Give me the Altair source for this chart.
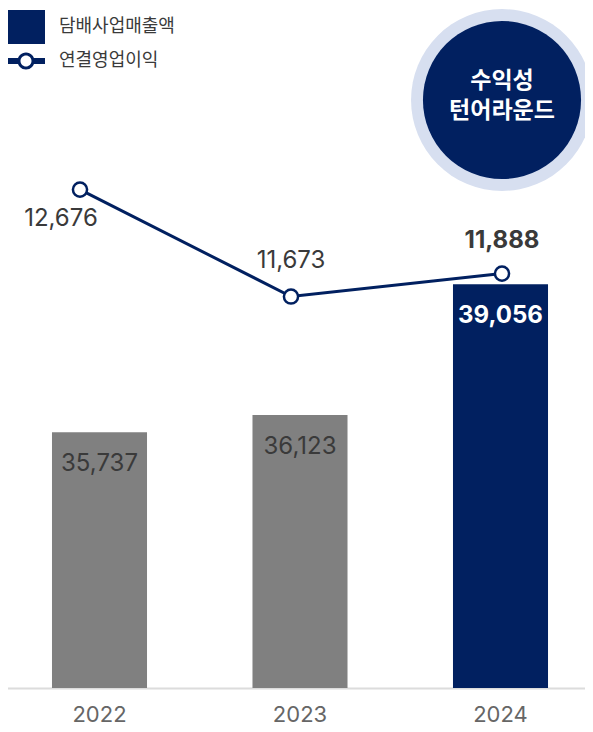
import altair as alt
import pandas as pd

# ---- data ----
years = ["2022", "2023", "2024"]
sales = [35737, 36123, 39056]          # 담배사업매출액
op_income = [12676, 11673, 11888]      # 연결영업이익
series_names = ["담배사업매출액", "연결영업이익"]
badge_lines = ["수익성", "턴어라운드"]

NAVY = "#012060"
GRAY = "#808080"
RING = "#d7dff0"
TXT = "#3a3a3a"
KR = "Noto Sans CJK KR"
NUM = "Inter"

bars_df = pd.DataFrame({"year": years, "sales": sales, "series": series_names[0]})
line_df = pd.DataFrame({"year": years, "income": op_income, "series": series_names[1]})
badge_df = pd.DataFrame({"year": [years[-1]] * len(badge_lines), "text": badge_lines,
                         "row": list(range(len(badge_lines)))})

# ---- scales ----
x_bar = alt.X(
    "year:N",
    scale=alt.Scale(type="band", domain=years, range=[-8.75, 592.75],
                    paddingInner=0.526, paddingOuter=0.263),
    axis=alt.Axis(title=None, labelAngle=0, ticks=False, grid=False,
                  domainColor="#dcdcdc", domainWidth=2,
                  labelFontSize=22, labelColor="#666666", labelFont=NUM,
                  labelPadding=16),
)
y_bar = alt.Y("sales:Q", scale=alt.Scale(domain=[30000, 45250], zero=False, clamp=True), axis=None)

x_line = alt.X("year:N", scale=alt.Scale(type="point", domain=years, range=[72, 494], padding=0), axis=None)
y_line = alt.Y("income:Q", scale=alt.Scale(domain=[8000, 14380], zero=False), axis=None)

BAR_SYMBOL = "M-1,-0.89H1V0.89H-1Z"
LINE_SYMBOL = ("M-1,-0.16H-0.42V0.16H-1Z M0.42,-0.16H1V0.16H0.42Z "
               "M-0.45,0A0.45,0.45 0 1,1 0.45,0A0.45,0.45 0 1,1 -0.45,0Z "
               "M-0.29,0A0.29,0.29 0 1,0 0.29,0A0.29,0.29 0 1,0 -0.29,0Z")

# ---- bar layer ----
bar = alt.Chart(bars_df).mark_bar().encode(
    x=x_bar,
    y=y_bar,
    fill=alt.condition(
        "datum.year == '2024'",
        alt.Fill("series:N", scale=alt.Scale(domain=[series_names[0]], range=[NAVY]),
                 legend=alt.Legend(title=None, orient="none", legendX=-1, legendY=0,
                                   symbolType=BAR_SYMBOL, symbolSize=1444,
                                   symbolStrokeWidth=0, labelFontSize=18, labelFont=KR,
                                   labelColor=TXT, labelOffset=14, padding=0)),
        alt.value(GRAY),
    ),
)

bar_text = alt.Chart(bars_df).transform_filter("datum.year != '2024'").mark_text(
    dy=32, fontSize=24, font=NUM, color=TXT, baseline="middle"
).encode(x=x_bar, y=y_bar, text=alt.Text("sales:Q", format=","))

bar_text_hi = alt.Chart(bars_df).transform_filter("datum.year == '2024'").mark_text(
    dy=32, fontSize=24, font=NUM, fontWeight="bold", color="white", baseline="middle"
).encode(x=x_bar, y=y_bar, text=alt.Text("sales:Q", format=","))

bar_layer = alt.layer(bar, bar_text, bar_text_hi)

# ---- line layer ----
line = alt.Chart(line_df).mark_line(strokeWidth=3).encode(
    x=x_line,
    y=y_line,
    stroke=alt.Stroke("series:N", scale=alt.Scale(domain=[series_names[1]], range=[NAVY]),
                      legend=alt.Legend(title=None, orient="none", legendX=-1, legendY=34,
                                        symbolType=LINE_SYMBOL, symbolSize=1444,
                                        symbolStrokeWidth=0, symbolFillColor=NAVY,
                                        labelFontSize=18, labelFont=KR,
                                        labelColor=TXT, labelOffset=14, padding=0)),
)

points = alt.Chart(line_df).mark_point(
    shape="circle", filled=True, fill="white", stroke=NAVY, strokeWidth=2.5, size=200, opacity=1
).encode(x=x_line, y=y_line)

t_2022 = alt.Chart(line_df).transform_filter("datum.year == '2022'").mark_text(
    dx=-19, dy=29, fontSize=24, font=NUM, color=TXT, baseline="middle"
).encode(x=x_line, y=y_line, text=alt.Text("income:Q", format=","))

t_2023 = alt.Chart(line_df).transform_filter("datum.year == '2023'").mark_text(
    dy=-36, fontSize=24, font=NUM, color=TXT, baseline="middle"
).encode(x=x_line, y=y_line, text=alt.Text("income:Q", format=","))

t_2024 = alt.Chart(line_df).transform_filter("datum.year == '2024'").mark_text(
    dy=-33, fontSize=24, font=NUM, fontWeight="bold", color=TXT, baseline="middle"
).encode(x=x_line, y=y_line, text=alt.Text("income:Q", format=","))

ring = alt.Chart(badge_df).transform_filter("datum.row == 0").mark_circle(
    size=33100, color=RING, opacity=1).encode(x=x_line, y=alt.value(92))
core = alt.Chart(badge_df).transform_filter("datum.row == 0").mark_circle(
    size=25000, color=NAVY, opacity=1).encode(x=x_line, y=alt.value(92))
badge_t1 = alt.Chart(badge_df).transform_filter("datum.row == 0").mark_text(
    fontSize=23, fontWeight="bold", font=KR, color="white", baseline="middle"
).encode(x=x_line, y=alt.value(73), text="text:N")
badge_t2 = alt.Chart(badge_df).transform_filter("datum.row == 1").mark_text(
    fontSize=23, fontWeight="bold", font=KR, color="white", baseline="middle"
).encode(x=x_line, y=alt.value(103), text="text:N")

line_layer = alt.layer(line, points, t_2022, t_2023, t_2024, ring, core, badge_t1, badge_t2)

chart = alt.layer(bar_layer, line_layer).resolve_scale(
    x="independent", y="independent"
).properties(
    width=577, height=680,
    autosize=alt.AutoSizeParams(type="none"),
    padding={"left": 0, "top": 0, "right": 0, "bottom": 36},
).configure_view(stroke=None)

chart.save("out.html", embed_options={"renderer": "svg", "actions": False})
